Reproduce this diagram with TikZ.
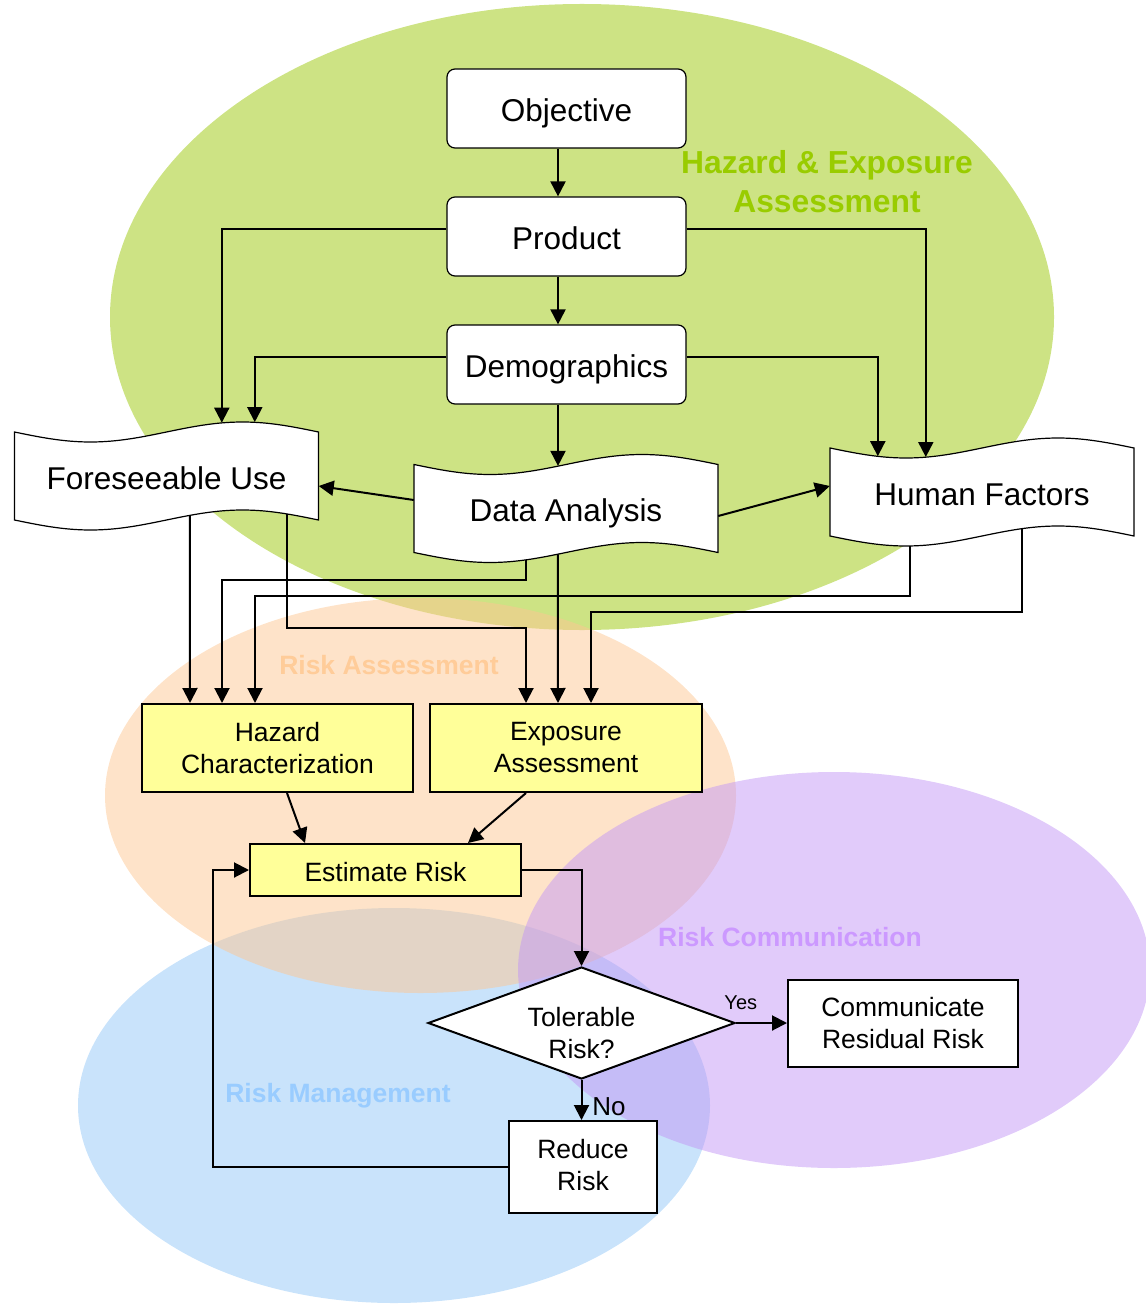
\documentclass[tikz,border=0pt]{standalone}
\usepackage{fontspec}
\setmainfont{Liberation Sans}
\usetikzlibrary{shapes.geometric,arrows.meta,calc}
\definecolor{gfill}{RGB}{205,227,132}
\definecolor{bfill}{RGB}{201,227,251}
\definecolor{ofill}{RGB}{253,199,147}
\definecolor{pfill}{RGB}{195,151,245}
\definecolor{hzgreen}{RGB}{153,204,0}
\definecolor{ratext}{RGB}{255,204,153}
\definecolor{rctext}{RGB}{204,153,255}
\definecolor{rmtext}{RGB}{153,204,255}
\definecolor{boxyellow}{RGB}{255,255,153}
\tikzset{
  rbox/.style={draw, line width=1.2pt, rounded corners=8pt, fill=white,
    minimum width=239pt, minimum height=79pt, inner sep=0pt,
    text height=26pt, text depth=0pt,
    font=\fontsize{31.5}{38}\selectfont},
  tapetext/.style={minimum width=304pt, minimum height=88pt, inner sep=0pt,
    text height=26pt, text depth=0pt,
    font=\fontsize{31.5}{38}\selectfont},
  tapeline/.style={draw=black, fill=white, line width=1.2pt},
  ybox/.style={draw, line width=2pt, fill=boxyellow, inner sep=0pt, align=center,
    font=\fontsize{26.5}{32}\selectfont},
  wbox/.style={draw, line width=2pt, fill=white, inner sep=0pt, align=center,
    font=\fontsize{26.5}{32}\selectfont},
  decision/.style={diamond, draw, fill=white, line width=2pt, minimum width=307pt,
    minimum height=112pt, inner sep=0pt, aspect=2.74},
  conn/.style={line width=2pt, -{Triangle[length=15pt,width=15pt]}},
  region/.style={font=\bfseries\fontsize{26.5}{32}\selectfont},
}
\newcommand\tapenode[4]{%
  \filldraw[tapeline] (#2-152,#3-44) sin ++(76,10) cos ++(76,-10) sin ++(76,-10) cos ++(76,10)
    -- ++(0,88) sin ++(-76,-10) cos ++(-76,10) sin ++(-76,10) cos ++(-76,-10) -- cycle;
  \node[tapetext] (#1) at (#2,#3) {#4};}
\begin{document}
\begin{tikzpicture}[x=1pt,y=-1pt]
\useasboundingbox (0,0) rectangle (1145,1305);
% regions
\fill[gfill] (582,317) ellipse [x radius=472, y radius=313];
\fill[bfill] (394,1105.5) ellipse [x radius=316, y radius=197.5];
\fill[ofill, fill opacity=0.5] (420.5,795.5) ellipse [x radius=315.5, y radius=197.5];
\fill[pfill, fill opacity=0.5] (834,970) ellipse [x radius=316, y radius=198];
% region labels
\node[text=hzgreen, align=center, font=\bfseries\fontsize{31.8}{39}\selectfont] (lhe) at (827,181.5) {Hazard \& Exposure\\Assessment};
\node[region, text=ratext] (lra) at (389,665) {Risk Assessment};
\node[region, text=rctext] (lrc) at (790,937) {Risk Communication};
\node[region, text=rmtext] (lrm) at (338,1096) {Risk Management};
% nodes
\node[rbox] (obj) at (566.5,108.5) {Objective};
\node[rbox] (prod) at (566.5,236.5) {Product};
\node[rbox] (demo) at (566.5,364.5) {Demographics};
\tapenode{fu}{166.5}{476}{Foreseeable Use}
\tapenode{da}{566}{508.5}{Data Analysis}
\tapenode{hf}{982}{492}{Human Factors}
\node[ybox, minimum width=271pt, minimum height=88pt] (haz) at (277.5,748) {Hazard\\Characterization};
\node[ybox, minimum width=272pt, minimum height=88pt] (exp) at (566,748) {Exposure\\Assessment};
\node[ybox, minimum width=271pt, minimum height=52pt, text height=23pt, text depth=0pt] (est) at (385.5,870) {Estimate Risk};
\node[decision, label={[font=\fontsize{26.5}{32}\selectfont, align=center, yshift=-10pt]center:Tolerable\\Risk?}] (tol) at (581.5,1023) {};
\node[wbox, minimum width=230pt, minimum height=87pt] (comm) at (903,1023.5) {Communicate\\Residual Risk};
\node[wbox, minimum width=148pt, minimum height=92pt, label={[font=\fontsize{26.5}{32}\selectfont, align=center, yshift=2pt]center:Reduce\\Risk}] (red) at (583,1167) {};
% connectors
\draw[conn] ($(obj.south)+(-8.5,0)$) -- ($(prod.north)+(-8.5,0)$);
\draw[conn] ($(prod.south)+(-8.5,0)$) -- ($(demo.north)+(-8.5,0)$);
\draw[conn] ($(demo.south)+(-8.5,0)$) -- ($(da.north)+(-8,1.6)$);
\draw[conn] ($(prod.west)+(0,-7.5)$) -| ($(fu.north west)+(207.5,-9.1)$);
\draw[conn] ($(demo.west)+(0,-7.5)$) -| ($(fu.north west)+(240.5,-9.7)$);
\draw[conn] ($(prod.east)+(0,-7.5)$) -| ($(hf.north west)+(96,9.2)$);
\draw[conn] ($(demo.east)+(0,-7.5)$) -| ($(hf.north west)+(48,8.4)$);
\draw[conn] ($(da.west)+(0,-8.5)$) -- ($(fu.east)+(0,10)$);
\draw[conn] ($(da.east)+(0,7.5)$) -- ($(hf.west)+(0,-6)$);
\draw[conn] ($(fu.south west)+(175.5,-4.7)$) -- ($(haz.north)+(-87.5,0)$);
\draw[conn] ($(da.south west)+(112,7.4)$) -- ++(0,20) -| ($(haz.north)+(-55.5,0)$);
\draw[conn] ($(hf.south west)+(80,10)$) -- ++(0,50) -| ($(haz.north)+(-22.5,0)$);
\draw[conn] ($(fu.south west)+(272.5,-6)$) -- ++(0,114) -| ($(exp.north)+(-40,0)$);
\draw[conn] ($(da.south west)+(144,1.6)$) -- ($(exp.north)+(-8,0)$);
\draw[conn] ($(hf.south west)+(192,-7.4)$) -- ++(0,83.4) -| ($(exp.north)+(25,0)$);
\draw[conn] ($(haz.south)+(9.5,0)$) -- ($(est.north)+(-80.5,0)$);
\draw[conn] ($(exp.south)+(-40,0)$) -- ($(est.north)+(82.5,0)$);
\draw[conn] (est.east) -| (tol.north);
\draw[conn] (tol.east) -- node[pos=0.094, yshift=20pt, font=\fontsize{20}{24}\selectfont] (yes) {Yes} (tol.east -| comm.west);
\draw[conn] (tol.south) -- node[pos=0.667, xshift=27.5pt, font=\fontsize{26}{30}\selectfont] (no) {No} (tol.south |- red.north);
\draw[conn] (red.west) -- ++(-295,0) |- (est.west);
\end{tikzpicture}
\end{document}
